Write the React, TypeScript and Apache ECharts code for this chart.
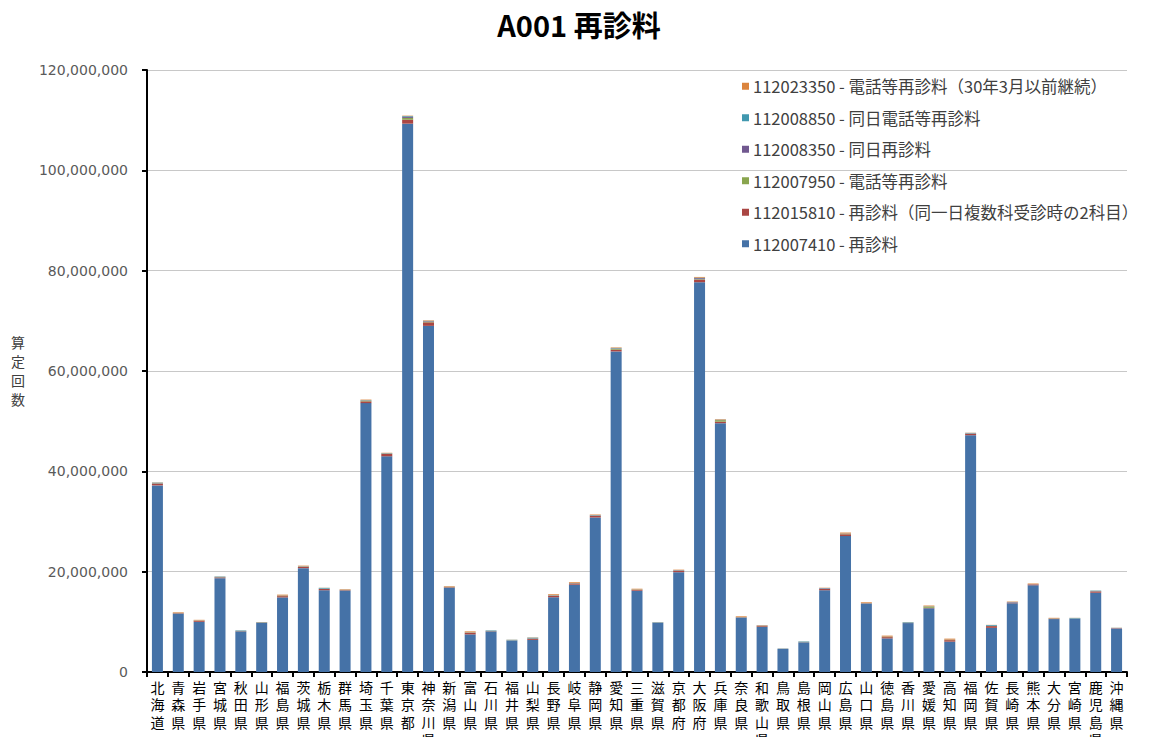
import React, { useEffect, useRef } from "react";
import * as echarts from "echarts";

const prefectures = [
  "北海道", "青森県", "岩手県", "宮城県", "秋田県", "山形県", "福島県", "茨城県", "栃木県", "群馬県",
  "埼玉県", "千葉県", "東京都", "神奈川県", "新潟県", "富山県", "石川県", "福井県", "山梨県", "長野県",
  "岐阜県", "静岡県", "愛知県", "三重県", "滋賀県", "京都府", "大阪府", "兵庫県", "奈良県", "和歌山県",
  "鳥取県", "島根県", "岡山県", "広島県", "山口県", "徳島県", "香川県", "愛媛県", "高知県", "福岡県",
  "佐賀県", "長崎県", "熊本県", "大分県", "宮崎県", "鹿児島県", "沖縄県",
];

// 112007410 - 再診料
const s112007410 = [
  37200000, 11600000, 10000000, 18700000, 8100000, 9750000, 14870000, 20700000, 16300000, 16250000,
  53600000, 43000000, 109300000, 69000000, 16800000, 7500000, 8100000, 6250000, 6400000, 14900000,
  17400000, 30800000, 63900000, 16200000, 9800000, 19900000, 77700000, 49600000, 10800000, 9000000,
  4600000, 5900000, 16300000, 27100000, 13600000, 6700000, 9750000, 12700000, 6050000, 47200000,
  8800000, 13700000, 17300000, 10550000, 10600000, 15800000, 8630000,
];
// 112015810 - 再診料（同一日複数科受診時の2科目）
const s112015810 = [
  350000, 100000, 200000, 150000, 50000, 50000, 250000, 250000, 250000, 80000,
  350000, 450000, 800000, 700000, 100000, 300000, 50000, 40000, 250000, 300000,
  250000, 350000, 350000, 150000, 30000, 300000, 500000, 300000, 80000, 150000,
  20000, 30000, 250000, 350000, 80000, 250000, 40000, 100000, 300000, 300000,
  350000, 120000, 120000, 60000, 40000, 250000, 60000,
];
// 112007950 - 電話等再診料
const s112007950 = [
  60000, 30000, 30000, 40000, 20000, 20000, 50000, 50000, 40000, 30000,
  150000, 80000, 350000, 150000, 30000, 30000, 20000, 20000, 30000, 40000,
  40000, 50000, 200000, 40000, 10000, 40000, 100000, 300000, 30000, 30000,
  10000, 20000, 40000, 50000, 30000, 30000, 20000, 250000, 40000, 40000,
  40000, 30000, 30000, 20000, 20000, 40000, 20000,
];
// 112008350 - 同日再診料
const s112008350 = [
  40000, 20000, 20000, 30000, 10000, 10000, 30000, 30000, 30000, 20000,
  50000, 50000, 200000, 100000, 20000, 20000, 10000, 10000, 20000, 30000,
  30000, 40000, 80000, 30000, 10000, 40000, 200000, 50000, 20000, 50000,
  10000, 10000, 100000, 50000, 20000, 20000, 10000, 20000, 20000, 40000,
  30000, 80000, 20000, 20000, 10000, 60000, 60000,
];
// 112008850 - 同日電話等再診料
const s112008850 = [
  100000, 30000, 30000, 100000, 100000, 100000, 40000, 50000, 150000, 20000,
  50000, 50000, 150000, 50000, 30000, 50000, 100000, 100000, 150000, 50000,
  30000, 60000, 70000, 30000, 80000, 40000, 100000, 50000, 30000, 40000,
  50000, 120000, 50000, 50000, 30000, 50000, 110000, 30000, 40000, 80000,
  150000, 40000, 30000, 30000, 110000, 80000, 30000,
];
// 112023350 - 電話等再診料（30年3月以前継続）
const s112023350 = [
  50000, 120000, 120000, 30000, 20000, 20000, 180000, 120000, 30000, 100000,
  100000, 70000, 100000, 100000, 120000, 200000, 20000, 30000, 50000, 180000,
  150000, 100000, 100000, 150000, 20000, 80000, 150000, 100000, 140000, 80000,
  10000, 20000, 60000, 200000, 140000, 200000, 20000, 150000, 200000, 40000,
  30000, 80000, 150000, 120000, 20000, 20000, 30000,
];

const yTicks = [0, 20000000, 40000000, 60000000, 80000000, 100000000, 120000000];

const seriesDefs = [
  { name: "112007410 - 再診料", data: s112007410, color: "#4572A7" },
  { name: "112015810 - 再診料（同一日複数科受診時の2科目）", data: s112015810, color: "#AA4643" },
  { name: "112007950 - 電話等再診料", data: s112007950, color: "#89A54E" },
  { name: "112008350 - 同日再診料", data: s112008350, color: "#71588F" },
  { name: "112008850 - 同日電話等再診料", data: s112008850, color: "#4198AF" },
  { name: "112023350 - 電話等再診料（30年3月以前継続）", data: s112023350, color: "#DB843D" },
];

const FONT = "'Noto Sans CJK JP', 'Noto Sans', sans-serif";
const TIGHT = "'Liberation Sans', 'Noto Sans CJK JP', sans-serif";

export default function App() {
  const ref = useRef<HTMLDivElement>(null);
  useEffect(() => {
    if (!ref.current) return;
    const chart = echarts.init(ref.current, undefined, { renderer: "svg" });
    chart.setOption({
      animation: false,
      backgroundColor: "#ffffff",
      title: {
        text: "A001 再診料",
        left: "center",
        top: -4,
        textStyle: { fontFamily: FONT, fontSize: 29, fontWeight: "bold", color: "#000000" },
      },
      legend: {
        orient: "vertical",
        left: 729,
        top: 65,
        itemWidth: 7,
        itemHeight: 7,
        itemGap: 15,
        icon: "rect",
        data: seriesDefs.map((s) => s.name).reverse(),
        textStyle: { fontFamily: FONT, fontSize: 16.5, color: "#404040", padding: [0, 0, 0, -1] },
      },
      grid: { left: 139, right: 23, top: 62, bottom: 65, containLabel: false, outerBoundsMode: "none" },
      xAxis: {
        type: "category",
        data: prefectures,
        boundaryGap: true,
        axisLine: { lineStyle: { color: "#000000", width: 2 } },
        axisTick: { show: true, alignWithLabel: false, length: 5, lineStyle: { color: "#000000", width: 2 } },
        axisLabel: {
          interval: 0,
          margin: 7,
          fontFamily: TIGHT,
          fontSize: 14,
          lineHeight: 17.5,
          color: "#000000",
          formatter: (v: string) => v.split("").join("\n"),
        },
      },
      yAxis: {
        type: "value",
        min: yTicks[0],
        max: yTicks[yTicks.length - 1],
        interval: 20000000,
        name: "算\n定\n回\n数",
        nameLocation: "middle",
        nameRotate: 0,
        nameGap: 122,
        nameTextStyle: { fontFamily: TIGHT, fontSize: 14, color: "#404040", lineHeight: 19 },
        axisLine: { show: true, lineStyle: { color: "#000000", width: 2 } },
        axisTick: { show: true, length: 5, lineStyle: { color: "#000000", width: 2 } },
        splitLine: { lineStyle: { color: "#c8c8c8", width: 1 } },
        axisLabel: {
          margin: 19,
          fontFamily: "'DejaVu Sans', sans-serif",
          fontSize: 14,
          color: "#5a5a5a",
          formatter: (v: number) => v.toLocaleString("en-US"),
        },
      },
      series: seriesDefs.map((s) => ({
        name: s.name,
        type: "bar",
        stack: "total",
        barWidth: 11,
        data: s.data,
        itemStyle: { color: s.color },
        emphasis: { disabled: true },
      })),
    });
    return () => chart.dispose();
  }, []);
  return <div ref={ref} style={{ width: 1142, height: 729 }} />;
}
